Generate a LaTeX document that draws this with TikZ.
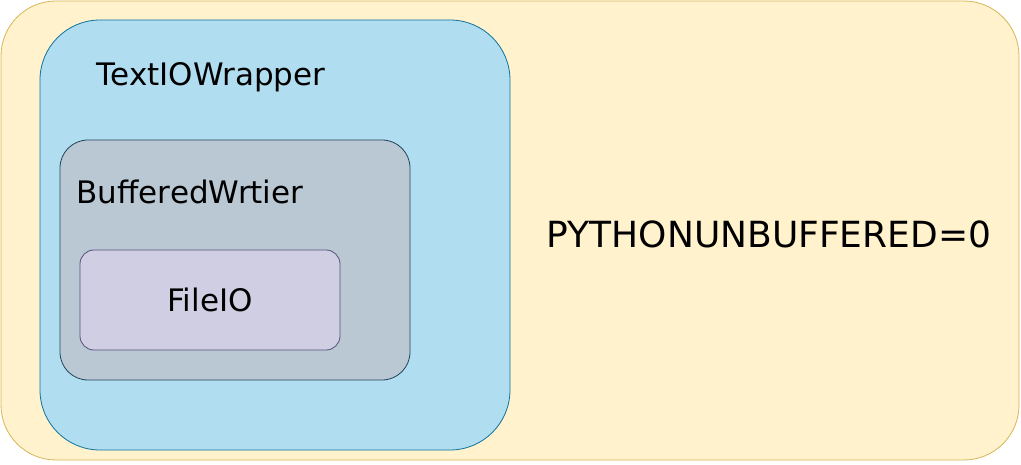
\documentclass[tikz,border=0pt]{standalone}
\usepackage{fontspec}
\setmainfont{DejaVu Sans}
\begin{document}
\begin{tikzpicture}[x=1pt,y=-1pt,
 box/.style={line width=0.8pt},
 lbl/.style={font=\fontsize{31}{35}\selectfont, inner sep=0pt}]
\useasboundingbox (0,0) rectangle (1021,465);
\definecolor{yf}{HTML}{FFF2CC}\definecolor{yd}{HTML}{D6B656}
\definecolor{bf}{HTML}{B1DDF0}\definecolor{bd}{HTML}{10739E}
\definecolor{gf}{HTML}{BAC8D3}\definecolor{gd}{HTML}{23445D}
\definecolor{pf}{HTML}{D0CEE2}\definecolor{pd}{HTML}{56517E}
\draw[box,fill=yf,draw=yd,rounded corners=55] (1,1) rectangle (1019,460);
\draw[box,fill=bf,draw=bd,rounded corners=60] (40,20) rectangle (510,450);
\draw[box,fill=gf,draw=gd,rounded corners=28] (60,140) rectangle (410,380);
\draw[box,fill=pf,draw=pd,rounded corners=14] (80,250) rectangle (340,350);
\node[lbl] (t) at (211,77) {TextIOWrapper};
\node[lbl] (b) at (190,192) {BufferedWrtier};
\node[lbl] (f) at (210,300) {FileIO};
\node[lbl,font=\fontsize{36}{40}\selectfont] (p) at (769,234) {PYTHONUNBUFFERED=0};
\end{tikzpicture}
\end{document}
